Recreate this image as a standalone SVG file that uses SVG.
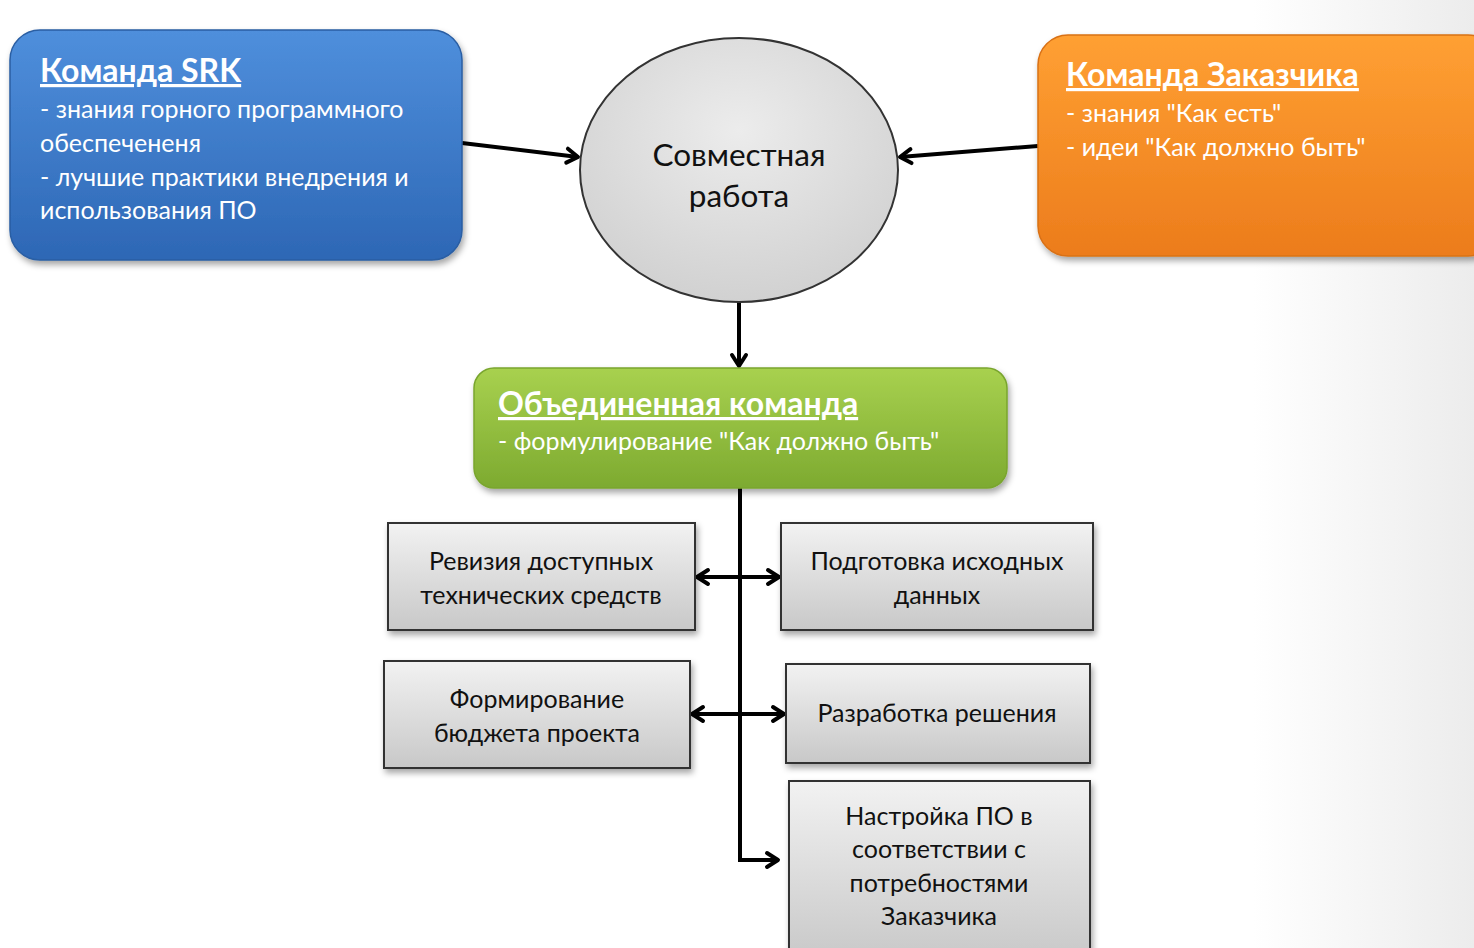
<svg xmlns="http://www.w3.org/2000/svg" width="1474" height="948" viewBox="0 0 1474 948">
<defs>
<linearGradient id="bg" x1="0" y1="0" x2="1" y2="0">
<stop offset="0.85" stop-color="#ffffff"/><stop offset="1" stop-color="#ececec"/>
</linearGradient>
<linearGradient id="gBlue" x1="0" y1="0" x2="0" y2="1">
<stop offset="0" stop-color="#4f8fdc"/><stop offset="1" stop-color="#2d67b5"/>
</linearGradient>
<linearGradient id="gOrange" x1="0" y1="0" x2="0" y2="1">
<stop offset="0" stop-color="#ffa033"/><stop offset="1" stop-color="#ec7c1c"/>
</linearGradient>
<linearGradient id="gGreen" x1="0" y1="0" x2="0" y2="1">
<stop offset="0" stop-color="#a8d14f"/><stop offset="1" stop-color="#7daa30"/>
</linearGradient>
<linearGradient id="gGray" x1="0" y1="0" x2="0" y2="1">
<stop offset="0" stop-color="#f2f2f2"/><stop offset="1" stop-color="#c8c8c8"/>
</linearGradient>
<radialGradient id="gCircle" cx="0.5" cy="0.35" r="0.7">
<stop offset="0" stop-color="#ececec"/><stop offset="1" stop-color="#cfcfcf"/>
</radialGradient>
<filter id="sh" x="-10%" y="-10%" width="125%" height="130%">
<feDropShadow dx="2" dy="4" stdDeviation="3" flood-color="#000" flood-opacity="0.35"/>
</filter>
<marker id="ah" viewBox="0 0 20 20" refX="17" refY="10" markerWidth="20" markerHeight="20" markerUnits="userSpaceOnUse" orient="auto-start-reverse">
<polyline points="6,3 17,10 6,17" fill="none" stroke="#000" stroke-width="4" stroke-linecap="round" stroke-linejoin="round"/>
</marker>
<style>
.ttl{font-family:Lato,"Open Sans",sans-serif;font-weight:bold;font-size:32px;fill:#ffffff;text-decoration:underline;}
.bd{font-family:Lato,"Open Sans",sans-serif;font-size:25px;fill:#ffffff;}
.gt{font-family:Lato,"Open Sans",sans-serif;font-size:25px;fill:#111;text-anchor:middle;}
.ct{font-family:Lato,"Open Sans",sans-serif;font-size:31.5px;fill:#111;text-anchor:middle;}
.box{fill:url(#gGray);stroke:#333;stroke-width:2;filter:url(#sh);}
.cn{fill:none;stroke:#000;stroke-width:4;}
</style>
</defs>
<rect width="1474" height="948" fill="url(#bg)"/>

<g id="connectors">
<line class="cn" x1="462" y1="143" x2="578" y2="157" marker-end="url(#ah)"/>
<line class="cn" x1="1038" y1="146" x2="900" y2="157" marker-end="url(#ah)"/>
<line class="cn" x1="739" y1="302" x2="739" y2="366" marker-end="url(#ah)"/>
<polyline class="cn" points="740,488 740,860 778,860" marker-end="url(#ah)"/>
<line class="cn" x1="697" y1="577" x2="779" y2="577" marker-start="url(#ah)" marker-end="url(#ah)"/>
<line class="cn" x1="692" y1="714" x2="784" y2="714" marker-start="url(#ah)" marker-end="url(#ah)"/>
</g>

<g id="srk">
<rect x="10" y="30" width="452" height="230" rx="30" fill="url(#gBlue)" stroke="#2a5ea3" stroke-width="1.5" filter="url(#sh)"/>
<text class="ttl" x="40" y="82">Команда SRK</text>
<text class="bd" x="40" y="118">- знания горного программного</text>
<text class="bd" x="40" y="152">обеспечененя</text>
<text class="bd" x="40" y="186">- лучшие практики внедрения и</text>
<text class="bd" x="40" y="219">использования ПО</text>
</g>

<g id="customer">
<rect x="1038" y="35" width="460" height="221" rx="30" fill="url(#gOrange)" stroke="#d97114" stroke-width="1.5" filter="url(#sh)"/>
<text class="ttl" x="1066" y="86">Команда Заказчика</text>
<text class="bd" x="1066" y="122">- знания "Как есть"</text>
<text class="bd" x="1066" y="156">- идеи "Как должно быть"</text>
</g>

<g id="joint">
<ellipse cx="739" cy="170" rx="159" ry="132" fill="url(#gCircle)" stroke="#333" stroke-width="2"/>
<text class="ct" x="739" y="166">Совместная</text>
<text class="ct" x="739" y="207">работа</text>
</g>

<g id="united">
<rect x="474" y="368" width="533" height="120" rx="20" fill="url(#gGreen)" stroke="#79a52e" stroke-width="1.5" filter="url(#sh)"/>
<text class="ttl" x="498" y="415">Объединенная команда</text>
<text class="bd" x="498" y="450">- формулирование "Как должно быть"</text>
</g>

<g id="revision">
<rect class="box" x="388" y="523" width="307" height="107"/>
<text class="gt" x="541" y="570">Ревизия доступных</text>
<text class="gt" x="541" y="604">технических средств</text>
</g>

<g id="prep">
<rect class="box" x="781" y="523" width="312" height="107"/>
<text class="gt" x="937" y="570">Подготовка исходных</text>
<text class="gt" x="937" y="604">данных</text>
</g>

<g id="budget">
<rect class="box" x="384" y="661" width="306" height="107"/>
<text class="gt" x="537" y="708">Формирование</text>
<text class="gt" x="537" y="742">бюджета проекта</text>
</g>

<g id="solution">
<rect class="box" x="786" y="664" width="304" height="99"/>
<text class="gt" x="937" y="722">Разработка решения</text>
</g>

<g id="setup">
<rect class="box" x="789" y="781" width="301" height="180"/>
<text class="gt" x="939" y="825">Настройка ПО в</text>
<text class="gt" x="939" y="858">соответствии с</text>
<text class="gt" x="939" y="892">потребностями</text>
<text class="gt" x="939" y="925">Заказчика</text>
</g>
</svg>
